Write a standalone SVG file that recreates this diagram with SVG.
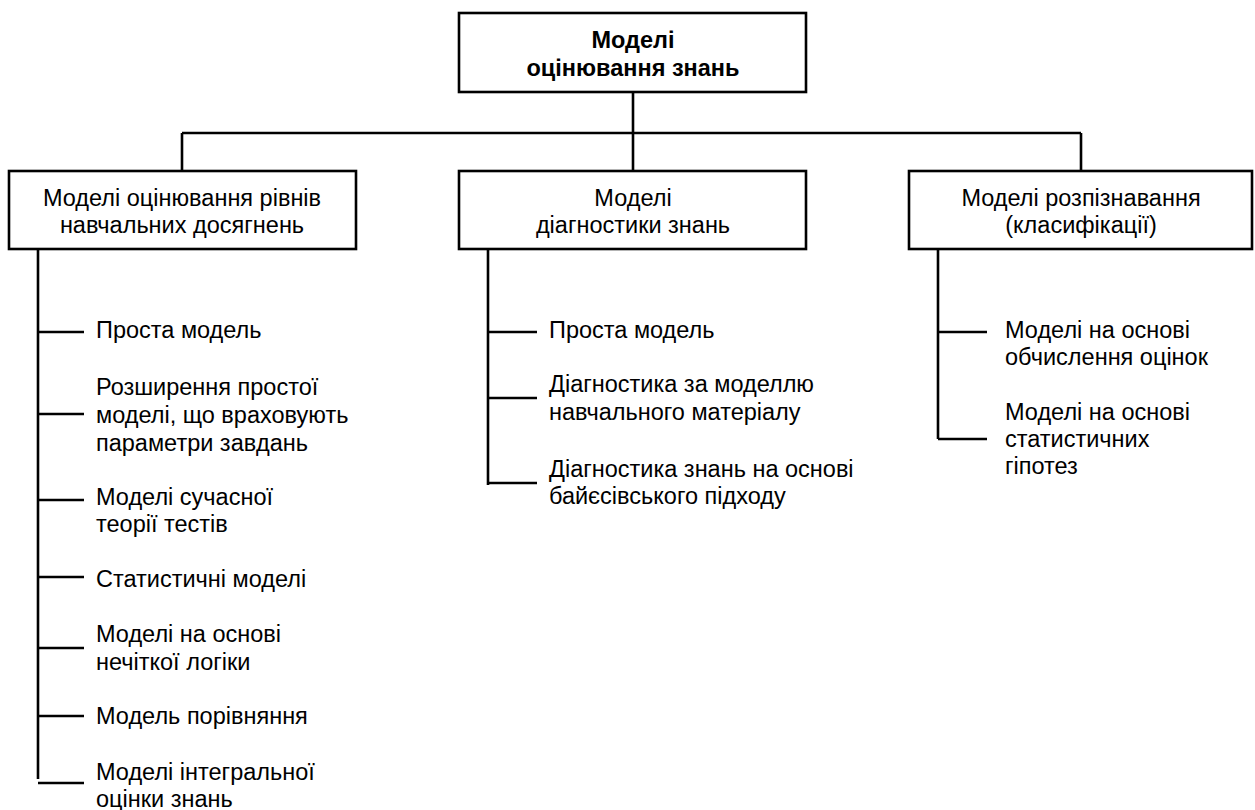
<svg xmlns="http://www.w3.org/2000/svg" width="1255" height="810" viewBox="0 0 1255 810">
<style>
.box{fill:#fff;stroke:#000;stroke-width:2.6}
.ln{stroke:#000;stroke-width:2.6;fill:none}
.t{font-family:"Liberation Sans",Arial,sans-serif;font-size:23.5px;fill:#000}
.c{text-anchor:middle}
.b{font-weight:bold}
</style>
<rect width="1255" height="810" fill="#fff"/>
<g id="connectors">
<line class="ln" x1="633" y1="92" x2="633" y2="171"/>
<line class="ln" x1="182" y1="133" x2="1081" y2="133"/>
<line class="ln" x1="182" y1="133" x2="182" y2="171"/>
<line class="ln" x1="1081" y1="133" x2="1081" y2="171"/>
<path class="ln" d="M38 249V779M38 332H84M38 414H84M38 500H84M38 577H84M38 648H84M38 716H84M38 783H84"/>
<path class="ln" d="M488 249V485M488 332H537M488 398H537M488 483H537"/>
<path class="ln" d="M938 249V439M938 332H987M938 439H987"/>
</g>
<g id="root">
<rect class="box" x="459" y="13" width="347" height="79"/>
<text class="t c b" x="633" y="48">Моделі</text>
<text class="t c b" x="633" y="76">оцінювання знань</text>
</g>
<g id="n1">
<rect class="box" x="9" y="171" width="347" height="78"/>
<text class="t c" x="182" y="206">Моделі оцінювання рівнів</text>
<text class="t c" x="182" y="233">навчальних досягнень</text>
</g>
<g id="n2">
<rect class="box" x="459" y="171" width="347" height="78"/>
<text class="t c" x="633" y="206">Моделі</text>
<text class="t c" x="633" y="233">діагностики знань</text>
</g>
<g id="n3">
<rect class="box" x="909" y="171" width="343" height="78"/>
<text class="t c" x="1081" y="206">Моделі розпізнавання</text>
<text class="t c" x="1081" y="233">(класифікації)</text>
</g>
<g id="l1"><text class="t" x="96" y="338">Проста модель</text></g>
<g id="l2"><text class="t" x="96" y="395">Розширення простої</text><text class="t" x="96" y="423">моделі, що враховують</text><text class="t" x="96" y="451">параметри завдань</text></g>
<g id="l3"><text class="t" x="96" y="505">Моделі сучасної</text><text class="t" x="96" y="532">теорії тестів</text></g>
<g id="l4"><text class="t" x="96" y="587">Статистичні моделі</text></g>
<g id="l5"><text class="t" x="96" y="642">Моделі на основі</text><text class="t" x="96" y="670">нечіткої логіки</text></g>
<g id="l6"><text class="t" x="96" y="724">Модель порівняння</text></g>
<g id="l7"><text class="t" x="96" y="780">Моделі інтегральної</text><text class="t" x="96" y="807">оцінки знань</text></g>
<g id="m1"><text class="t" x="549" y="338">Проста модель</text></g>
<g id="m2"><text class="t" x="549" y="392">Діагностика за моделлю</text><text class="t" x="549" y="420">навчального матеріалу</text></g>
<g id="m3"><text class="t" x="549" y="477">Діагностика знань на основі</text><text class="t" x="549" y="504">байєсівського підходу</text></g>
<g id="r1"><text class="t" x="1005" y="338">Моделі на основі</text><text class="t" x="1005" y="365">обчислення оцінок</text></g>
<g id="r2"><text class="t" x="1005" y="420">Моделі на основі</text><text class="t" x="1005" y="447">статистичних</text><text class="t" x="1005" y="474">гіпотез</text></g>
</svg>
